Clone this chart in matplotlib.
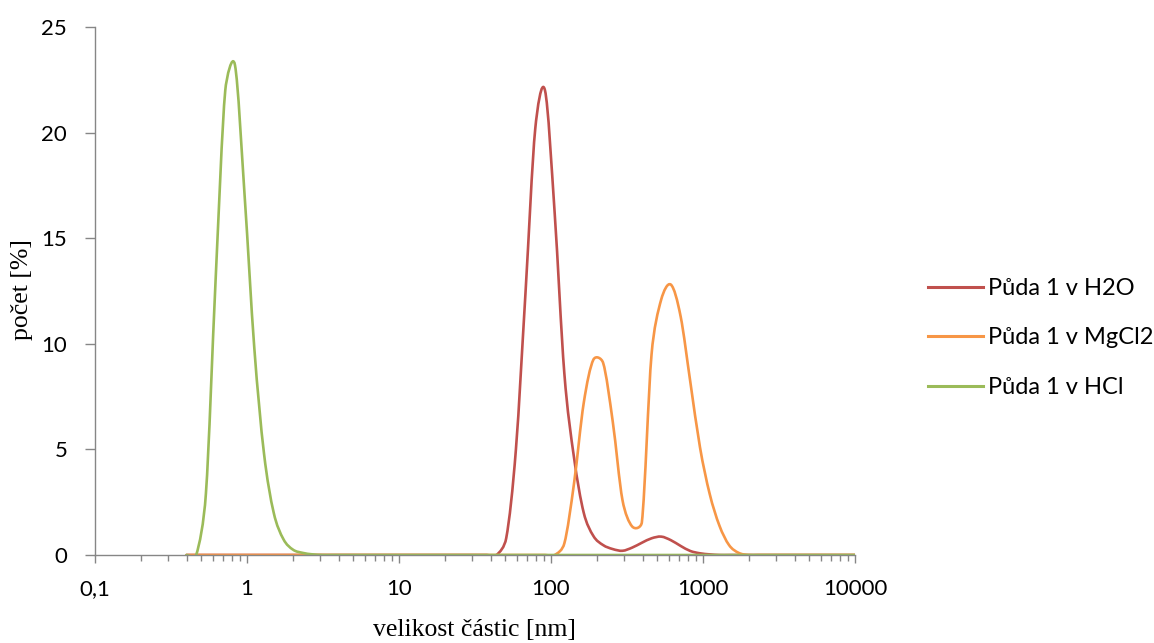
import numpy as np
import matplotlib
matplotlib.use('Agg')
import matplotlib.pyplot as plt
from matplotlib.path import Path
from matplotlib.patches import PathPatch
from matplotlib.lines import Line2D
from matplotlib.ticker import FixedLocator, LogLocator, NullFormatter

# ===== data (Zetasizer size classes, number distribution) =====
sizes = [0.4, 0.4632, 0.5365, 0.6213, 0.7195, 0.8332, 0.9649, 1.117, 1.294, 1.499,
         1.736, 2.01, 2.328, 2.696, 3.122, 3.615, 4.187, 4.849, 5.615, 6.503,
         7.531, 8.721, 10.1, 11.7, 13.54, 15.69, 18.17, 21.04, 24.36, 28.21,
         32.67, 37.84, 43.82, 50.75, 58.77, 68.06, 78.82, 91.28, 105.7, 122.4,
         141.8, 164.2, 190.1, 220.2, 255.0, 295.3, 342.0, 396.1, 458.7, 531.2,
         615.1, 712.4, 825.0, 955.4, 1106, 1281, 1484, 1718, 1990, 2305,
         2669, 3091, 3580, 4145, 4801, 5560, 6439, 7456, 8635, 10000]

h2o = [0, 0, 0, 0, 0, 0, 0, 0, 0, 0,
       0, 0, 0, 0, 0, 0, 0, 0, 0, 0,
       0, 0, 0, 0, 0, 0, 0, 0, 0, 0,
       0, 0, 0, 0.8, 5.0, 12.5, 20.2, 22.0, 16.2, 8.6,
       4.6, 2.0, 0.9, 0.47, 0.28, 0.2, 0.35, 0.58, 0.79, 0.87,
       0.7, 0.43, 0.19, 0.08, 0.03, 0, 0, 0, 0, 0,
       0, 0, 0, 0, 0, 0, 0, 0, 0, 0]

mgcl2 = [0, 0, 0, 0, 0, 0, 0, 0, 0, 0,
         0, 0, 0, 0, 0, 0, 0, 0, 0, 0,
         0, 0, 0, 0, 0, 0, 0, 0, 0, 0,
         0, 0, 0, 0, 0, 0, 0, 0, 0, 0.55,
         3.4, 7.2, 9.25, 9.1, 6.3, 2.6, 1.35, 1.55, 9.5, 12.1,
         12.8, 11.3, 8.2, 5.1, 2.9, 1.4, 0.47, 0.1, 0, 0,
         0, 0, 0, 0, 0, 0, 0, 0, 0, 0]

hcl = [0, 0, 2.9, 13.0, 22.0, 23.2, 17.0, 9.8, 4.8, 2.0,
       0.75, 0.25, 0.1, 0.03, 0, 0, 0, 0, 0, 0,
       0, 0, 0, 0, 0, 0, 0, 0, 0, 0,
       0, 0, 0, 0, 0, 0, 0, 0, 0, 0,
       0, 0, 0, 0, 0, 0, 0, 0, 0, 0,
       0, 0, 0, 0, 0, 0, 0, 0, 0, 0,
       0, 0, 0, 0, 0, 0, 0, 0, 0, 0]

series_names = ['Půda 1 v H2O', 'Půda 1 v MgCl2', 'Půda 1 v HCl']
series_colors = ['#C0504D', '#F79646', '#9BBB59']
xtick_values = [0.1, 1, 10, 100, 1000, 10000]
xtick_labels = ['0,1', '1', '10', '100', '1000', '10000']
ytick_values = [0, 5, 10, 15, 20, 25]

TICK_FONT = 'Lato'
LABEL_FONT = 'Liberation Serif'
AXIS_GRAY = '#868686'
PX_DECADE = 152.0   # approx. pixels per decade / per y-unit, used only for smoothing weights
PX_UNIT = 21.12


def smooth_path(x, y):
    # Excel-style smoothed line: Bezier segments, handles limited to half the segment length
    px = np.log10(np.asarray(x, float)) * PX_DECADE
    py = np.asarray(y, float) * PX_UNIT
    P = np.column_stack([px, py])
    n = len(P)
    verts = [(x[0], y[0])]
    codes = [Path.MOVETO]
    for i in range(n - 1):
        p0 = P[max(i - 1, 0)]
        p1 = P[i]
        p2 = P[i + 1]
        p3 = P[min(i + 2, n - 1)]
        d02 = np.hypot(*(p2 - p0))
        d12 = np.hypot(*(p2 - p1))
        d13 = np.hypot(*(p3 - p1))
        f = 1 / 6 if d02 / 6 < d12 / 2 else d12 / 2 / d02
        g = 1 / 6 if d13 / 6 < d12 / 2 else d12 / 2 / d13
        c1 = p1 + (p2 - p0) * f
        c2 = p2 - (p3 - p1) * g
        for c in (c1, c2):
            verts.append((10 ** (c[0] / PX_DECADE), c[1] / PX_UNIT))
        verts.append((x[i + 1], y[i + 1]))
        codes += [Path.CURVE4] * 3
    return Path(verts, codes)


fig = plt.figure(figsize=(11.54, 6.43), dpi=100)
ax = fig.add_axes([95 / 1154, 88 / 643, 760 / 1154, 528 / 643])
ax.set_xscale('log')

for vals, name, col in zip([h2o, mgcl2, hcl], series_names, series_colors):
    patch = PathPatch(smooth_path(sizes, vals), facecolor='none', edgecolor=col,
                      linewidth=1.9, capstyle='round', joinstyle='round')
    ax.add_patch(patch)

ax.set_xlim(0.1, 10000)
ax.set_ylim(0, 25)

ax.xaxis.set_major_locator(FixedLocator(xtick_values))
ax.xaxis.set_minor_locator(LogLocator(base=10, subs=np.arange(2, 10)))
ax.xaxis.set_minor_formatter(NullFormatter())
ax.set_xticks(xtick_values)
ax.set_xticklabels(xtick_labels)
ax.set_yticks(ytick_values)

for s in ['top', 'right']:
    ax.spines[s].set_visible(False)
for s in ['left', 'bottom']:
    ax.spines[s].set_color(AXIS_GRAY)
    ax.spines[s].set_linewidth(1.0)

ax.tick_params(axis='y', which='major', direction='out', length=7, width=1,
               color=AXIS_GRAY, pad=13, labelsize=16)
ax.tick_params(axis='x', which='major', direction='out', length=6, width=1,
               color=AXIS_GRAY, pad=11, labelsize=16)
ax.tick_params(axis='x', which='minor', direction='out', length=4, width=1,
               color=AXIS_GRAY)
for lab in ax.get_xticklabels() + ax.get_yticklabels():
    lab.set_fontfamily(TICK_FONT)

fig.text(22 / 1154, 1 - 290 / 643, 'počet [%]', rotation=90, ha='center', va='center',
         fontsize=18.5, family=LABEL_FONT)
fig.text(474 / 1154, 1 - 630 / 643, 'velikost částic [nm]', ha='center', va='center',
         fontsize=18.5, family=LABEL_FONT)

handles = [Line2D([], [], color=c, linewidth=2.2) for c in series_colors]
fig.legend(handles, series_names, loc='center left', bbox_to_anchor=(907 / 1154, 1 - 338 / 643),
           frameon=False, handlelength=2.3, handletextpad=0.25, labelspacing=1.2,
           prop={'family': TICK_FONT, 'size': 17})

fig.savefig('out.png', dpi=100)
